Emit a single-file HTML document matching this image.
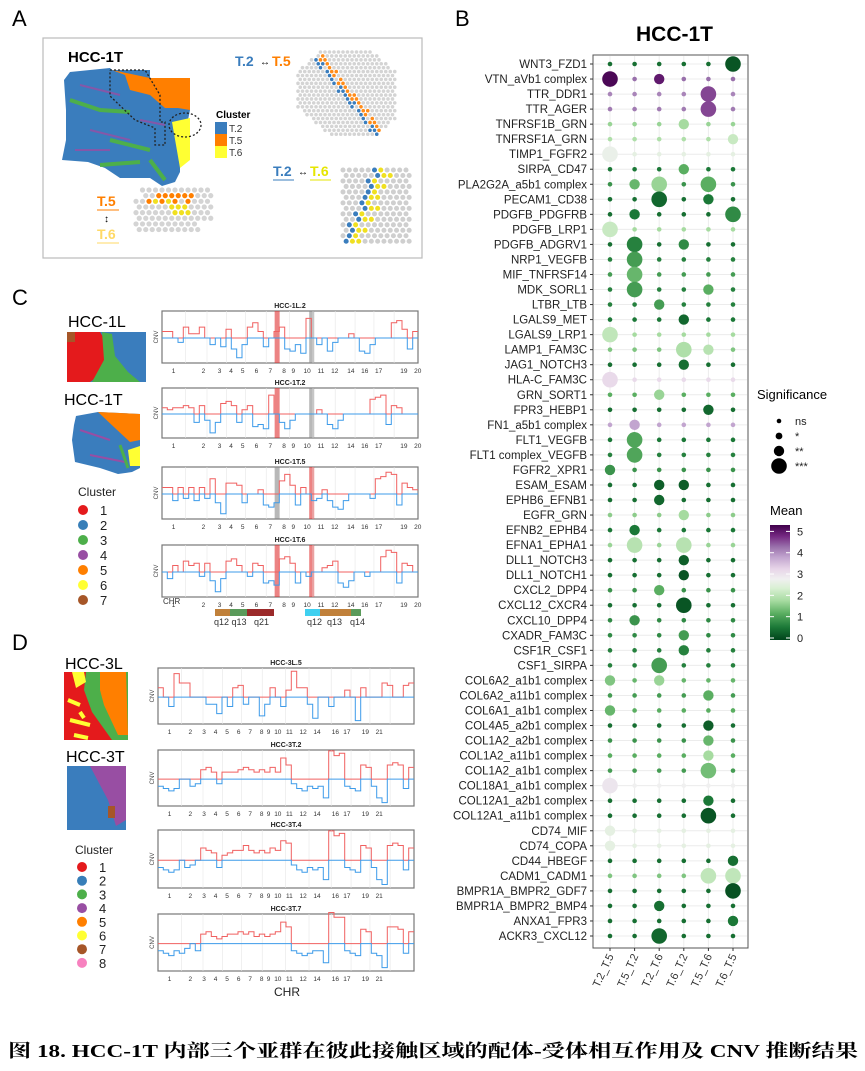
<!DOCTYPE html>
<html><head><meta charset="utf-8"><style>
body{margin:0;background:#fff;}
svg{display:block;font-family:"Liberation Sans",Arial,sans-serif;}
</style></head><body>
<svg id="fig" width="865" height="1071" viewBox="0 0 865 1071" xmlns="http://www.w3.org/2000/svg">
<text x="12" y="26" font-size="22">A</text>
<text x="455" y="26" font-size="22">B</text>
<text x="12" y="305" font-size="22">C</text>
<text x="12" y="650" font-size="22">D</text>

<g>
<rect x="43" y="38" width="379" height="220" fill="#fff" stroke="#bbb" stroke-width="1.2"/>
<text x="68" y="62" font-size="15" font-weight="bold">HCC-1T</text>
<g>
<polygon points="70,72 110,68 112,70 150,70 150,78 190,78 190,110 186,130 180,160 180,172 175,182 162,186 150,178 120,178 105,168 88,162 62,160 66,140 66,110 64,80" fill="#3a7dbd"/>
<polygon points="112,70 150,78 190,78 190,110 178,108 165,108 150,95 130,90 125,75" fill="#ff7f00"/>
<polygon points="172,122 190,118 190,160 180,168 176,145" fill="#ffff33"/>
<path d="M70,100 L100,110 L130,112 M110,140 L150,150 M150,160 L165,180 M100,165 L140,162" stroke="#4daf4a" stroke-width="4" fill="none"/>
<path d="M80,85 L120,95 M90,130 L130,140 M140,120 L165,125 M75,150 L110,150" stroke="#984ea3" stroke-width="2" fill="none" opacity="0.8"/>
<polyline points="110,70 145,70 160,95 160,122 165,122 165,145 155,145 155,128 135,120 110,96 110,70" fill="none" stroke="#222" stroke-width="1.3" stroke-dasharray="2,2"/>
<ellipse cx="185" cy="125" rx="16" ry="12" fill="none" stroke="#222" stroke-width="1.3" stroke-dasharray="2,2"/>
</g>
<text x="216" y="118" font-size="10" font-weight="bold">Cluster</text>
<rect x="215" y="122" width="12" height="12" fill="#3a7dbd"/><text x="229" y="132" font-size="10" fill="#333">T.2</text>
<rect x="215" y="134" width="12" height="12" fill="#ff7f00"/><text x="229" y="144" font-size="10" fill="#333">T.5</text>
<rect x="215" y="146" width="12" height="12" fill="#ffff33"/><text x="229" y="156" font-size="10" fill="#333">T.6</text>
<text x="235" y="66" font-size="14" font-weight="bold" fill="#3a7dbd">T.2</text><text x="260" y="65" font-size="10">↔</text><text x="272" y="66" font-size="14" font-weight="bold" fill="#ff7f00">T.5</text>
<text x="273" y="176" font-size="14" font-weight="bold" fill="#3a7dbd">T.2</text><text x="298" y="175" font-size="10">↔</text><text x="310" y="176" font-size="14" font-weight="bold" fill="#e6e600">T.6</text>
<line x1="273" y1="180" x2="294" y2="180" stroke="#3a7dbd"/><line x1="310" y1="180" x2="331" y2="180" stroke="#e6e600"/>
<text x="97" y="206" font-size="14" font-weight="bold" fill="#ff7f00">T.5</text><line x1="97" y1="210" x2="119" y2="210" stroke="#ff7f00"/>
<text x="104" y="222" font-size="10">↕</text>
<text x="97" y="239" font-size="14" font-weight="bold" fill="#ffd966">T.6</text><line x1="97" y1="243" x2="119" y2="243" stroke="#ffd966"/>
<g id="zoomA"></g>
</g>

<g>
<text x="68" y="327" font-size="16">HCC-1L</text>
<g>
<rect x="67" y="332" width="79" height="50" fill="#3a7dbd"/>
<polygon points="67,332 100,332 108,345 100,375 90,382 67,382" fill="#e41a1c"/>
<path d="M102,332 L112,334 L115,356 L128,372 L140,382 L92,382 L104,360 Z" fill="#4daf4a"/>
<rect x="67" y="332" width="8" height="10" fill="#a65628"/>
</g>
<text x="64" y="405" font-size="16">HCC-1T</text>
<g>
<polygon points="76,416 98,412 140,414 140,468 132,472 118,474 100,468 75,462 72,440 74,425" fill="#3a7dbd"/>
<polygon points="98,412 140,414 140,440 130,442 115,428" fill="#ff7f00"/>
<polygon points="128,450 140,446 140,466 130,466" fill="#ffff33"/>
<path d="M80,430 L110,440 M90,455 L125,462" stroke="#984ea3" stroke-width="2"/>
<path d="M120,445 L128,468" stroke="#4daf4a" stroke-width="3"/>
</g>
<text x="78" y="496" font-size="12" fill="#222">Cluster</text>
<g id="legC"></g>
<g id="cnvC"></g>
<g>
<rect x="215" y="609" width="15" height="7" fill="#c0803a"/><rect x="230" y="609" width="17" height="7" fill="#5a9a5a"/><rect x="247" y="609" width="27" height="7" fill="#9b2a2a"/>
<text x="214" y="625" font-size="9" fill="#333">q12 q13</text><text x="254" y="625" font-size="9" fill="#333">q21</text>
<rect x="305" y="609" width="15" height="7" fill="#3fd0f0"/><rect x="320" y="609" width="31" height="7" fill="#c0803a"/><rect x="351" y="609" width="10" height="7" fill="#5a9a5a"/>
<text x="307" y="625" font-size="9" fill="#333">q12</text><text x="327" y="625" font-size="9" fill="#333">q13</text><text x="350" y="625" font-size="9" fill="#333">q14</text>
</g>
<text x="163" y="604" font-size="8" fill="#333">CHR</text>
</g>

<g>
<text x="65" y="669" font-size="16">HCC-3L</text>
<g>
<rect x="64" y="672" width="64" height="68" fill="#e41a1c"/>
<polygon points="86,672 128,672 128,740 112,740 92,712 84,690" fill="#4daf4a"/>
<polygon points="100,672 126,672 128,735 118,735 104,705 100,690" fill="#ff7f00"/>
<polygon points="72,672 84,672 86,682 76,688" fill="#ffff33"/>
<path d="M68,700 L80,705 M70,720 L90,725 M74,735 L88,738 M80,712 L84,718" stroke="#ffff33" stroke-width="4"/>
</g>
<text x="66" y="762" font-size="16">HCC-3T</text>
<g>
<rect x="67" y="766" width="59" height="64" fill="#3a7dbd"/>
<polygon points="90,766 126,766 126,820 116,826 108,800 100,785" fill="#984ea3"/>
<rect x="108" y="806" width="7" height="12" fill="#a65628"/>
</g>
<text x="75" y="854" font-size="12" fill="#222">Cluster</text>
<g id="legD"></g>
<g id="cnvD"></g>
<text x="274" y="996" font-size="12" fill="#222">CHR</text>
</g>

<g>
<text x="636" y="41" font-size="21" font-weight="bold">HCC-1T</text>
<rect x="593" y="55" width="155" height="893" fill="#fff" stroke="#555" stroke-width="1"/>
<g id="dots"></g>
<text x="757" y="399" font-size="13">Significance</text>
<g id="sigleg"></g>
<text x="770" y="515" font-size="13">Mean</text>
<defs><linearGradient id="gradMean" x1="0" y1="1" x2="0" y2="0">
<stop offset="0" stop-color="#00441b"/><stop offset="0.11" stop-color="#1b7837"/><stop offset="0.23" stop-color="#5aae61"/><stop offset="0.34" stop-color="#a6dba0"/><stop offset="0.45" stop-color="#d9f0d3"/><stop offset="0.53" stop-color="#f0f0f0"/><stop offset="0.62" stop-color="#e7d4e8"/><stop offset="0.72" stop-color="#c2a5cf"/><stop offset="0.81" stop-color="#9970ab"/><stop offset="0.9" stop-color="#762a83"/><stop offset="1" stop-color="#40004b"/></linearGradient></defs>
<rect x="770" y="525" width="20" height="115" fill="url(#gradMean)"/>
<g id="cbticks"></g>
</g>

<text x="8" y="1057" font-size="18" font-weight="bold" textLength="850" lengthAdjust="spacingAndGlyphs" font-family="'Liberation Serif','Noto Serif CJK SC',serif">图 18. HCC-1T 内部三个亚群在彼此接触区域的配体-受体相互作用及 CNV 推断结果</text>
</svg>
<script>
const NS="http://www.w3.org/2000/svg";
function mk(tag,attrs,parent,text){const e=document.createElementNS(NS,tag);for(const k in attrs)e.setAttribute(k,attrs[k]);if(text!==undefined)e.textContent=text;parent.appendChild(e);return e;}

const pairLabels=["WNT3_FZD1","VTN_aVb1 complex","TTR_DDR1","TTR_AGER","TNFRSF1B_GRN","TNFRSF1A_GRN","TIMP1_FGFR2","SIRPA_CD47","PLA2G2A_a5b1 complex","PECAM1_CD38","PDGFB_PDGFRB","PDGFB_LRP1","PDGFB_ADGRV1","NRP1_VEGFB","MIF_TNFRSF14","MDK_SORL1","LTBR_LTB","LGALS9_MET","LGALS9_LRP1","LAMP1_FAM3C","JAG1_NOTCH3","HLA-C_FAM3C","GRN_SORT1","FPR3_HEBP1","FN1_a5b1 complex","FLT1_VEGFB","FLT1 complex_VEGFB","FGFR2_XPR1","ESAM_ESAM","EPHB6_EFNB1","EGFR_GRN","EFNB2_EPHB4","EFNA1_EPHA1","DLL1_NOTCH3","DLL1_NOTCH1","CXCL2_DPP4","CXCL12_CXCR4","CXCL10_DPP4","CXADR_FAM3C","CSF1R_CSF1","CSF1_SIRPA","COL6A2_a1b1 complex","COL6A2_a11b1 complex","COL6A1_a1b1 complex","COL4A5_a2b1 complex","COL1A2_a2b1 complex","COL1A2_a11b1 complex","COL1A2_a1b1 complex","COL18A1_a1b1 complex","COL12A1_a2b1 complex","COL12A1_a11b1 complex","CD74_MIF","CD74_COPA","CD44_HBEGF","CADM1_CADM1","BMPR1A_BMPR2_GDF7","BMPR1A_BMPR2_BMP4","ANXA1_FPR3","ACKR3_CXCL12"];
const clusterPairs=["T.2_T.5","T.5_T.2","T.2_T.6","T.6_T.2","T.5_T.6","T.6_T.5"];
const rowBaseMean=[0.5,4.3,4.1,4.2,1.7,1.9,2.6,0.6,0.9,0.5,0.5,1.8,0.5,0.7,1.0,0.7,0.7,0.6,1.8,1.5,0.5,3.2,1.2,0.5,3.8,0.6,0.7,0.9,0.5,0.5,1.6,0.6,1.7,0.5,0.5,0.9,0.5,0.8,0.8,0.7,0.7,1.3,1.0,1.2,0.5,0.9,1.2,1.0,2.8,0.5,0.5,2.6,2.6,0.5,1.5,0.5,0.5,0.5,0.5];
const sigRow=[0,1,1,2,3,4,5,6,7,8,8,8,9,9,10,10,11,12,12,13,14,15,15,16,17,18,19,19,20,21,22,23,24,25,26,27,28,28,29,30,31,32,32,33,34,35,36,37,38,39,40,41,41,42,43,44,45,46,47,48,49,50,51,52,53,54,54,55,56,57,58];
const sigCol=[5,0,2,4,4,3,5,0,3,1,2,4,2,4,1,5,0,1,3,1,1,1,4,2,3,0,3,4,3,0,2,4,1,1,1,0,2,3,2,3,1,1,3,3,3,2,3,1,3,3,2,0,2,4,0,4,4,4,4,0,4,4,0,0,5,4,5,5,2,5,2];
const sigMean=[0.2,5.2,5.0,4.6,4.6,1.8,2.2,2.7,1.2,1.3,1.7,1.2,0.4,0.6,0.6,0.8,2.2,0.7,0.8,1.0,1.3,1.0,1.2,1.0,0.4,2.1,1.9,2.0,0.5,3.2,1.7,0.4,3.8,1.1,1.1,0.9,0.3,0.3,0.4,1.8,0.6,2.0,2.0,0.3,0.2,1.2,0.2,0.9,1.0,0.7,1.0,1.5,1.7,1.2,1.3,0.3,1.3,1.8,1.4,3.0,0.6,0.2,2.6,2.6,0.5,2.1,2.1,0.15,0.5,0.6,0.4];
const sigLevel=[3,3,2,3,3,2,2,3,2,2,3,3,3,2,2,3,3,3,2,3,3,3,2,2,2,3,3,2,2,3,2,2,2,3,3,2,2,2,2,2,2,3,3,2,2,2,3,2,2,2,3,2,2,2,2,2,2,2,3,3,2,3,2,2,2,3,3,3,2,2,3];

const colStops=[[0,"#00441b"],[0.6,"#1b7837"],[1.2,"#5aae61"],[1.8,"#a6dba0"],[2.4,"#d9f0d3"],[2.8,"#f0f0f0"],[3.3,"#e7d4e8"],[3.8,"#c2a5cf"],[4.3,"#9970ab"],[4.8,"#762a83"],[5.3,"#40004b"]];
function hex(h){return [1,3,5].map(i=>parseInt(h.substr(i,2),16));}
function meanColor(v){v=Math.max(0,Math.min(5.3,v));for(let i=0;i<colStops.length-1;i++){const[a,ca]=colStops[i],[b,cb]=colStops[i+1];if(v<=b){const t=(v-a)/(b-a);const x=hex(ca),y=hex(cb);return "rgb("+x.map((c,j)=>Math.round(c+(y[j]-c)*t)).join(",")+")";}}return "#40004b";}
const sizeScale=lv=>[2.3,3.4,5.2,7.8][lv];
const yRow=i=>64+i*(936-64)/(pairLabels.length-1);
const xCol=j=>610+j*24.6;

const dots=document.getElementById('dots');
pairLabels.forEach((lab,i)=>{
  const gl=mk('line',{x1:594,x2:747,y1:yRow(i),y2:yRow(i),stroke:'#ececec','stroke-width':1},dots);
  
  
  mk('line',{x1:590,x2:593,y1:yRow(i),y2:yRow(i),stroke:'#333'},dots);
  const t=mk('text',{x:587,y:yRow(i)+4,'text-anchor':'end','font-size':11.5,fill:'#222'},dots,lab);
  
  
});
clusterPairs.forEach((c,j)=>{
  const gl=mk('line',{x1:xCol(j),x2:xCol(j),y1:56,y2:947,stroke:'#ececec'},dots);
  
  
  mk('line',{x1:xCol(j),x2:xCol(j),y1:948,y2:951,stroke:'#333'},dots);
  const t=mk('text',{x:xCol(j)+4,y:956,'text-anchor':'end','font-size':11,fill:'#333',transform:`rotate(-65 ${xCol(j)+4} 956)`},dots,c);
  
  
});
pairLabels.forEach((lab,i)=>{clusterPairs.forEach((c,j)=>{
  let m=rowBaseMean[i],lv=0;
  for(let k=0;k<sigRow.length;k++){if(sigRow[k]===i&&sigCol[k]===j){m=sigMean[k];lv=sigLevel[k];}}
  const d=mk('circle',{cx:xCol(j),cy:yRow(i),r:sizeScale(lv),fill:meanColor(m)},dots);
  
  
});});
const sigLegLabels=["ns","*","**","***"];
const sl=document.getElementById('sigleg');
sigLegLabels.forEach((s,k)=>{
  mk('circle',{cx:779,cy:421+k*15,r:sizeScale(k),fill:'#000'},sl);
  mk('text',{x:795,y:425+k*15,'font-size':11,fill:'#222'},sl,s);
});
const cbTicks=[0,1,2,3,4,5];
const cb=document.getElementById('cbticks');
cbTicks.forEach(v=>{const y=638-v*(113/5.3);mk('text',{x:797,y:y+4,'font-size':11,fill:'#222'},cb,String(v));mk('line',{x1:770,x2:774,y1:y,y2:y,stroke:'#fff'},cb);mk('line',{x1:786,x2:790,y1:y,y2:y,stroke:'#fff'},cb);});

const clusterColors=["#e41a1c","#377eb8","#4daf4a","#984ea3","#ff7f00","#ffff33","#a65628","#f781bf"];
function legend(id,n,x,y0,step){const g=document.getElementById(id);for(let k=0;k<n;k++){const c=mk('circle',{cx:x,cy:y0+k*step,r:5,fill:clusterColors[k]},g);mk('text',{x:x+17,y:y0+k*step+5,'font-size':13,fill:'#222'},g,String(k+1));}}
legend('legC',7,83,510,15);
legend('legD',8,82,867,13.7);

const cnvC_1L2=[0.3,0.3,0,-0.2,0.5,0.2,0.2,0.5,0,-0.3,0,-0.4,0.4,-0.5,-0.9,-0.3,0.5,0.7,0.3,-0.4,0,0.3,0.5,-0.5,-0.6,-0.3,-0.7,0.9,0,-0.3,0,-0.6,-0.2,0,0,0.2,0,-0.6,-0.7,-0.3,0,0,0,0.7,0.8,0.4,-0.5,0.3];
const cnvC_1T2=[0.3,0.2,0.3,0.3,0.4,0.3,-0.4,0.4,-0.3,-0.9,-0.4,0.5,0.6,0.4,-0.4,0.2,0.4,-0.6,-0.5,-0.7,0.9,0,-0.4,-0.7,-0.3,0,0,0,0,0.2,0,-0.5,-0.7,-0.3,0,0,0,0,0,0.7,0.8,0.9,-0.5,0.4,0.3,0,0,0];
const cnvC_1T5=[0.3,0.3,-0.3,0.3,-0.2,0.3,-0.3,0.3,-0.2,0.7,-0.4,-0.9,0.5,0.5,0.4,-0.4,0,0,0.2,-0.5,-0.6,-0.4,0.6,0.9,0.4,-0.5,0.3,0,-0.3,-0.2,0.2,-0.3,-0.6,-0.7,-0.3,0,0,0,0,-0.2,0.7,0.8,1.0,0.9,-0.5,0.5,0.3,0.2];
const cnvC_1T6=[0,-0.3,0.3,0,0.5,0.3,0.4,-0.2,0.4,-0.4,-0.9,-0.3,0.5,0.6,0.3,0,-0.2,0.4,0.3,-0.5,-0.4,-0.6,0.6,0.7,0.4,-0.5,0,-0.2,0,0,0.2,0.3,0.5,-0.5,-0.7,-0.4,0,0,-0.2,0,0,0.7,1.0,0.9,-0.5,0.4,0.3,0];
const cnvD_3L5=[0.4,0,-0.4,1.0,0.6,0.6,0,0,0,-0.3,-0.3,-0.7,0,-0.4,0.4,0.5,-0.3,0,0,-0.8,-0.3,0.4,0,-0.4,0.3,1.1,0.4,0.4,-0.3,-0.9,0,0,-0.4,0,0,0.3,0,-1.0,0.4,0,0,0,0.6,0.5,0,0,0.5,0.6];
const cnvD_3T2=[-0.3,-0.4,-0.5,-0.4,0,0,-0.3,-0.2,0.4,0.5,0.3,-0.2,0.3,0.3,0.3,0.4,0.5,0.4,0.3,0.4,0.3,0.5,0.3,0.9,0.6,-0.2,-0.4,-0.5,-0.3,-0.4,-0.3,-0.8,1.2,1.0,1.1,-0.3,-0.4,-0.5,0.6,0.5,-0.3,-0.8,-1.0,0.6,0.7,0.6,-0.4,0.5];
const cnvD_3T4=[-0.3,-0.4,-0.5,-0.4,0,-0.3,-0.2,0,0.5,0.4,0.3,-0.3,0.2,0.3,0.4,0.4,0.6,0.4,0.3,0.4,0.3,0.5,0.4,0.8,0.7,-0.2,-0.4,-0.5,-0.3,-0.4,-0.3,-0.8,1.2,1.0,1.1,-0.3,-0.4,-0.5,0.6,0.5,-0.3,-0.8,-1.0,0.6,0.7,0.6,-0.4,0.5];
const cnvD_3T7=[-0.3,-0.4,-0.5,-0.3,-0.4,-0.2,0,-0.3,0.4,0.5,0.3,0.2,0.3,0.4,0.4,0.5,0.4,0.5,0.3,0.4,0.3,0.4,0.5,0.9,0.7,-0.3,-0.4,-0.5,-0.4,-0.3,-0.3,-0.8,1.3,1.1,1.1,-0.3,-0.4,-0.5,0.6,0.5,-0.4,-0.5,-1.0,0.7,0.7,0.6,-0.4,0.5];
const chrLabelsC=["1","2","3","4","5","6","7","8","9","10","11","12","14","16","17","19","20"];
const chrPosC=[0.05,0.18,0.25,0.3,0.35,0.41,0.47,0.53,0.57,0.63,0.69,0.75,0.82,0.88,0.94,1.05,1.11];
const chrLabelsD=["1","2","3","4","5","6","7","8","9","10","11","12","14","16","17","19","21"];
const chrPosD=[0.05,0.14,0.2,0.25,0.3,0.35,0.4,0.45,0.48,0.52,0.57,0.63,0.69,0.77,0.82,0.9,0.96];

function cnvPanel(parentId,title,vals,x,y,w,h,labels,lpos,highlights){
  const g=document.getElementById(parentId);
  const pg=mk('g',{},g);
  
  
  mk('text',{x:x+w/2,y:y-3,'text-anchor':'middle','font-size':7,'font-weight':'bold',fill:'#222'},pg,title);
  mk('rect',{x:x,y:y,width:w,height:h,fill:'#fff',stroke:'#777','stroke-width':1.2},pg);
  (highlights||[]).forEach(hl=>mk('rect',{x:x+hl[0]*w,y:y,width:5,height:h,fill:hl[1],opacity:0.6},pg));
  for(let k=1;k<12;k++){const xx=x+w*(k/12+0.01*Math.sin(k));mk('line',{x1:xx,x2:xx,y1:y,y2:y+h,stroke:'#e6e6e6','stroke-width':0.6},pg);}
  const ymid=y+h*0.52,sc=h*0.42,bw=w/vals.length;
  let pr='',pb='';
  vals.forEach((v,i)=>{const x0=x+i*bw,x1=x0+bw;const yp=ymid-Math.max(v,0)*sc,yn=ymid-Math.min(v,0)*sc;
    pr+=(i?'L':'M')+x0.toFixed(1)+','+yp.toFixed(1)+'L'+x1.toFixed(1)+','+yp.toFixed(1);
    pb+=(i?'L':'M')+x0.toFixed(1)+','+yn.toFixed(1)+'L'+x1.toFixed(1)+','+yn.toFixed(1);});
  const lr=mk('path',{d:pr,fill:'none',stroke:'#f06060','stroke-width':1},pg);
  
  
  const lb=mk('path',{d:pb,fill:'none',stroke:'#3d9be9','stroke-width':1},pg);
  
  
  mk('text',{x:x-4,y:y+h/2,'font-size':6,fill:'#444','text-anchor':'middle',transform:`rotate(-90 ${x-4} ${y+h/2})`},pg,'CNV');
  labels.forEach((l,k)=>{const xx=x+lpos[k]*w*0.9;mk('text',{x:xx,y:y+h+10,'font-size':6.5,fill:'#333','text-anchor':'middle'},pg,l);});
}
const hlC1=[[0.44,'#e03030'],[0.575,'#888']],hlC2=[[0.44,'#888'],[0.575,'#e03030']];
cnvPanel('cnvC','HCC-1L.2',cnvC_1L2,162,311,256,52,chrLabelsC,chrPosC,hlC1);
cnvPanel('cnvC','HCC-1T.2',cnvC_1T2,162,388,256,50,chrLabelsC,chrPosC,hlC1);
cnvPanel('cnvC','HCC-1T.5',cnvC_1T5,162,467,256,52,chrLabelsC,chrPosC,hlC2);
cnvPanel('cnvC','HCC-1T.6',cnvC_1T6,162,545,256,52,chrLabelsC,chrPosC,[[0.44,'#e03030'],[0.575,'#e03030']]);
cnvPanel('cnvD','HCC-3L.5',cnvD_3L5,158,668,256,56,chrLabelsD,chrPosD,[]);
cnvPanel('cnvD','HCC-3T.2',cnvD_3T2,158,750,256,56,chrLabelsD,chrPosD,[]);
cnvPanel('cnvD','HCC-3T.4',cnvD_3T4,158,830,256,58,chrLabelsD,chrPosD,[]);
cnvPanel('cnvD','HCC-3T.7',cnvD_3T7,158,914,256,57,chrLabelsD,chrPosD,[]);

const za=document.getElementById('zoomA');
function spots(x0,y0,cols,rows,step,colorFn){for(let r=0;r<rows;r++)for(let c=0;c<cols;c++){const col=colorFn(r,c);if(!col)continue;mk('circle',{cx:x0+c*step+(r%2)*step/2,cy:y0+r*step*0.87,r:step*0.4,fill:col},za);}}
spots(298,52,22,22,4.5,(r,c)=>{const d=c-r*0.7;if(c+r<5||c-r>16||r-c>14||c+r>38)return null;if(Math.abs(d-4)<0.7+0)return '#ff8c1a';if(Math.abs(d-2.5)<0.6)return '#3a7dbd';return '#d4d4d4';});
spots(343,170,11,14,6.3,(r,c)=>{const m=5-Math.round(r*0.35);if(c===m)return '#3a7dbd';if(c===m+1||c===m+2&&r%2)return '#f0e020';return '#cfcfcf';});
spots(136,190,12,8,6.5,(r,c)=>{if((c<1&&r<2)||(c>9&&r>5))return null;if(r===1&&c>=3&&c<=8)return '#ff7f00';if(r===2&&(c===2||c===4||c===6||c===8))return '#ff7f00';if(r===2&&(c===3||c===5))return '#f0e020';if(r>=3&&r<=4&&c>=5&&c<=8&&c-r>=2&&c-r<=4)return '#f0e020';return '#d4d4d4';});
</script>
</body></html>
